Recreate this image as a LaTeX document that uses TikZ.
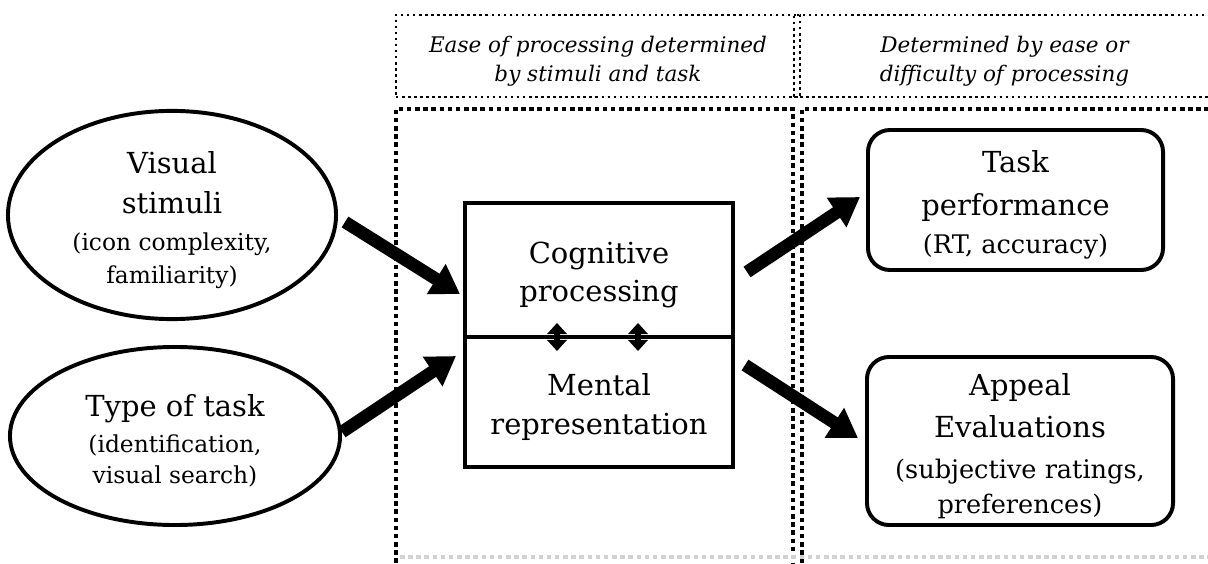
\documentclass[tikz,border=0pt]{standalone}
\usepackage{fontspec}
\setmainfont{DejaVu Serif}
\usetikzlibrary{shapes.geometric,arrows.meta,positioning}
\newcommand{\mainsize}{\fontsize{20.6pt}{28pt}\selectfont}
\newcommand{\subsize}{\fontsize{16.6pt}{22pt}\selectfont}
\newcommand{\notesize}{\fontsize{18.2pt}{22pt}\selectfont}
\newcommand{\headsize}{\fontsize{15.3pt}{20.6pt}\selectfont}
\newcommand{\padtop}{\rule{0pt}{23pt}}
\newcommand{\padhead}{\rule{0pt}{19pt}}

\begin{document}
\begin{tikzpicture}[x=0.025cm, y=-0.025cm,
    oval/.style={draw, ellipse, line width=2.8pt, align=center, font=\mainsize, inner sep=0pt},
    stage/.style={draw, rectangle, line width=2.8pt, minimum width=6.7cm, align=center, font=\mainsize},
    outcome/.style={draw, rectangle, rounded corners=0.55cm, line width=2.8pt, align=center, font=\mainsize, inner sep=2pt},
    headbox/.style={draw, dash pattern=on 1.8pt off 2.5pt, line width=1.8pt, align=center, font=\headsize\itshape},
    colframe/.style={dash pattern=on 3.2pt off 2.6pt, line width=3.2pt},
    bigarrow/.style={-{Triangle[length=20pt,width=24pt]}, line width=9pt},
    linkarrow/.style={{Triangle[length=8pt,width=14pt]}-{Triangle[length=8pt,width=14pt]}, line width=3.6pt}]
    \useasboundingbox (0,0) rectangle (1208,564);
    \clip (0,0) rectangle (1208,564);

    \node[headbox, minimum width=10.1cm, minimum height=2.05cm] (headleft) at (598,56) {\padhead Ease of processing determined\\by stimuli and task};
    \node[headbox, minimum width=10.525cm, minimum height=2.05cm] (headright) at (1004.5,56) {\padhead Determined by ease or\\difficulty of processing};
    \draw[colframe] (396,620) -- (396,109) -- (793,109) -- (793,620);
    \draw[colframe] (802,620) -- (802,109) -- (1230,109);
    \draw[colframe, gray!35, line width=2.4pt] (400,557) -- (1208,557);

    \node[oval, minimum width=8.2cm, minimum height=4.35cm] (stimuli) at (172,215) {\padtop Visual\\stimuli\\[-1.5pt]{\subsize (icon complexity,}\\[-4.5pt]{\subsize familiarity)}};
    \node[oval, minimum width=8.25cm, minimum height=4.45cm] (tasktype) at (175,436) {\padtop Type of task\\[-2.5pt]{\subsize (identification,}\\[-6pt]{\subsize visual search)}};

    \node[stage, minimum height=3.35cm] (cog) at (599,270) {\padtop Cognitive\\[-1pt]processing};
    \node[stage, minimum height=3.25cm] (men) at (599,402) {\padtop Mental\\representation};

    \node[outcome, minimum width=7.375cm, minimum height=3.5cm] (perf) at (1015.5,200) {\padtop Task\\[2.5pt]performance\\[-1pt]{\notesize (RT, accuracy)}};
    \node[outcome, minimum width=7.65cm, minimum height=4.2cm] (appeal) at (1020,441) {\padtop Appeal\\[2pt]Evaluations\\[1pt]{\notesize (subjective ratings,}\\[-3pt]{\notesize preferences)}};

    \draw[bigarrow] ([shift={(7,7)}]stimuli.east) -- ([shift={(-3,-45)}]cog.south west);
    \draw[bigarrow] ([shift={(0,-4)}]tasktype.east) -- ([shift={(-7,21)}]men.north west);
    \draw[bigarrow] ([shift={(12,-67)}]cog.south east) -- ([shift={(-6,-3)}]perf.west);
    \draw[bigarrow] ([shift={(10,30)}]men.north east) -- ([shift={(-7,-3)}]appeal.west);

    \draw[linkarrow] ([shift={(-42,-16)}]cog.south) -- ([shift={(-42,16)}]men.north);
    \draw[linkarrow] ([shift={(39,-16)}]cog.south) -- ([shift={(39,16)}]men.north);
\end{tikzpicture}
\end{document}
